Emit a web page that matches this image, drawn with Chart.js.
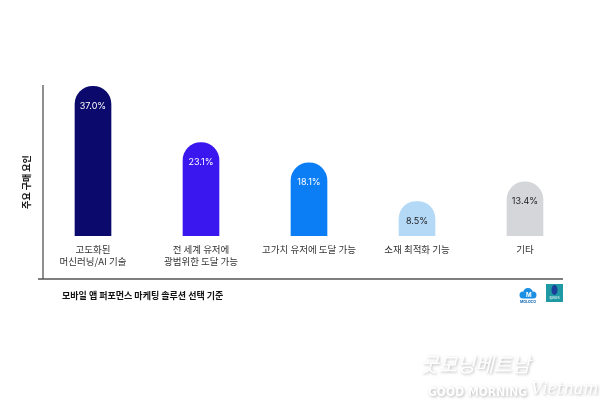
<!DOCTYPE html>
<html>
<head>
<meta charset="utf-8">
<script src="https://cdn.jsdelivr.net/npm/chart.js@4/dist/chart.umd.min.js"></script>
<style>
    html, body { margin: 0; padding: 0; background: #ffffff; }
    #chart_box { width: 600px; height: 418px; position: relative; }
</style>
</head>
<body>
<div id="chart_box"><canvas id="factor_canvas"></canvas></div>
<script>
const category_labels = [
    ["고도화된", "머신러닝/AI 기술"],
    ["전 세계 유저에", "광범위한 도달 가능"],
    "고가치 유저에 도달 가능",
    "소재 최적화 기능",
    "기타"
];
const factor_values = [37.0, 23.1, 18.1, 8.5, 13.4];
const bar_colors = ["#0b0a6c", "#3a17ee", "#0b7ef6", "#b4d9f7", "#d4d6d9"];
const value_text_colors = ["#ffffff", "#ffffff", "#ffffff", "#222222", "#222222"];
const axis_title = "주요 구매 요인";
const footer_text = "모바일 앱 퍼포먼스 마케팅 솔루션 선택 기준";

document.addEventListener("DOMContentLoaded", ()=>{
    initialize_page();
});

function initialize_page(){
    let canvas = document.getElementById("factor_canvas");
    new_bar_chart(canvas);
}

// value text inside the rounded top of each bar
const value_label_plugin = {
    id: "value_labels",
    afterDatasetsDraw(chart){
        let ctx = chart.ctx;
        let meta = chart.getDatasetMeta(0);
        ctx.save();
        ctx.font = "9px Inter, 'Open Sans', sans-serif";
        ctx.textAlign = "center";
        ctx.textBaseline = "middle";
        meta.data.forEach((bar, i)=>{
            ctx.fillStyle = value_text_colors[i];
            ctx.fillText(factor_values[i].toFixed(1) + "%", bar.x, bar.y + 20);
        });
        ctx.restore();
    }
};

// L-shaped frame, rotated axis title, footer, logos and watermark
const frame_plugin = {
    id: "frame",
    afterDraw(chart){
        let ctx = chart.ctx;
        let area = chart.chartArea;
        let line_x = area.left + 4;
        let line_y = area.bottom + 43;
        let line_end = area.right - 16;

        ctx.save();
        ctx.strokeStyle = "#555555";
        ctx.lineWidth = 1.3;
        ctx.beginPath();
        ctx.moveTo(line_x, area.top);
        ctx.lineTo(line_x, line_y);
        ctx.moveTo(line_x - 5, line_y);
        ctx.lineTo(line_end, line_y);
        ctx.stroke();

        ctx.fillStyle = "#111111";
        ctx.font = "bold 9px 'Noto Sans CJK KR', sans-serif";
        ctx.textAlign = "center";
        ctx.textBaseline = "middle";
        ctx.translate(27, (area.top + line_y) / 2);
        ctx.rotate(-Math.PI / 2);
        ctx.fillText(axis_title, 0, 0);
        ctx.restore();

        ctx.save();
        ctx.fillStyle = "#111111";
        ctx.font = "bold 9px 'Noto Sans CJK KR', sans-serif";
        ctx.textAlign = "left";
        ctx.textBaseline = "middle";
        ctx.fillText(footer_text, line_x + 19, line_y + 17);

        // logos
        let logo_y = line_y + 6;
        ctx.fillStyle = "#1a8fe3";
        ctx.beginPath();
        ctx.arc(line_end - 35, logo_y + 8, 5, Math.PI, 0);
        ctx.arc(line_end - 30, logo_y + 10, 3.5, -Math.PI / 2, Math.PI / 2);
        ctx.lineTo(line_end - 40, logo_y + 13.5);
        ctx.arc(line_end - 40, logo_y + 10, 3.5, Math.PI / 2, -Math.PI / 2);
        ctx.fill();
        ctx.fillStyle = "#ffffff";
        ctx.font = "bold 6px Inter, sans-serif";
        ctx.fillText("M", line_end - 37, logo_y + 10);
        ctx.fillStyle = "#1a6fb5";
        ctx.font = "bold 3.5px Inter, sans-serif";
        ctx.textAlign = "center";
        ctx.fillText("MOLOCO", line_end - 35, logo_y + 17);
        ctx.fillStyle = "#1f9aa5";
        ctx.fillRect(line_end - 17, logo_y - 1, 17, 18);
        ctx.fillStyle = "#1c3f9a";
        ctx.beginPath();
        ctx.ellipse(line_end - 8.5, logo_y + 5, 3, 5, 0, 0, Math.PI * 2);
        ctx.fill();
        ctx.fillStyle = "#ffffff";
        ctx.font = "4px Inter, sans-serif";
        ctx.fillText("Ipsos", line_end - 8.5, logo_y + 13);
        ctx.restore();

        // watermark
        ctx.save();
        ctx.shadowColor = "rgba(0,0,0,0.3)";
        ctx.shadowBlur = 3;
        ctx.shadowOffsetX = 1;
        ctx.shadowOffsetY = 1;
        ctx.fillStyle = "#ffffff";
        ctx.textBaseline = "middle";
        ctx.textAlign = "left";
        ctx.font = "italic 20px 'Noto Sans CJK KR', sans-serif";
        ctx.fillText("굿모닝베트남", 420, 364);
        ctx.font = "bold 12px 'DejaVu Sans Condensed', 'Roboto', sans-serif";
        let gm_width = ctx.measureText("GOOD MORNING").width;
        ctx.fillText("GOOD MORNING", 428, 393);
        ctx.font = "italic 16px 'DejaVu Serif', serif";
        ctx.fillText("Vietnam", 428 + gm_width + 4, 390);
        ctx.restore();
    }
};

function new_bar_chart(canvas){
    let chart_data = {
        labels: category_labels,
        datasets: [{
            data: factor_values,
            backgroundColor: bar_colors,
            barThickness: 36,
            borderRadius: { topLeft: 18, topRight: 18, bottomLeft: 0, bottomRight: 0 },
            borderSkipped: "bottom"
        }]
    };

    return new Chart(canvas, {
        type: "bar",
        data: chart_data,
        plugins: [value_label_plugin, frame_plugin],
        options: {
            responsive: true,
            maintainAspectRatio: false,
            animation: false,
            layout: {
                padding: { left: 39, right: 21, top: 85, bottom: 142 }
            },
            plugins: {
                legend: { display: false },
                tooltip: { enabled: false }
            },
            scales: {
                x: {
                    offset: true,
                    grid: { display: false, drawTicks: false },
                    border: { display: false },
                    ticks: {
                        color: "#333333",
                        padding: 7,
                        maxRotation: 0,
                        autoSkip: false,
                        font: { family: "'Noto Sans CJK KR', sans-serif", size: 9.5, lineHeight: 1.3 }
                    },
                    afterFit: (scale)=>{ scale.height = 40; }
                },
                y: {
                    display: false,
                    min: 0,
                    max: 37.3
                }
            }
        }
    });
}
</script>
</body>
</html>
